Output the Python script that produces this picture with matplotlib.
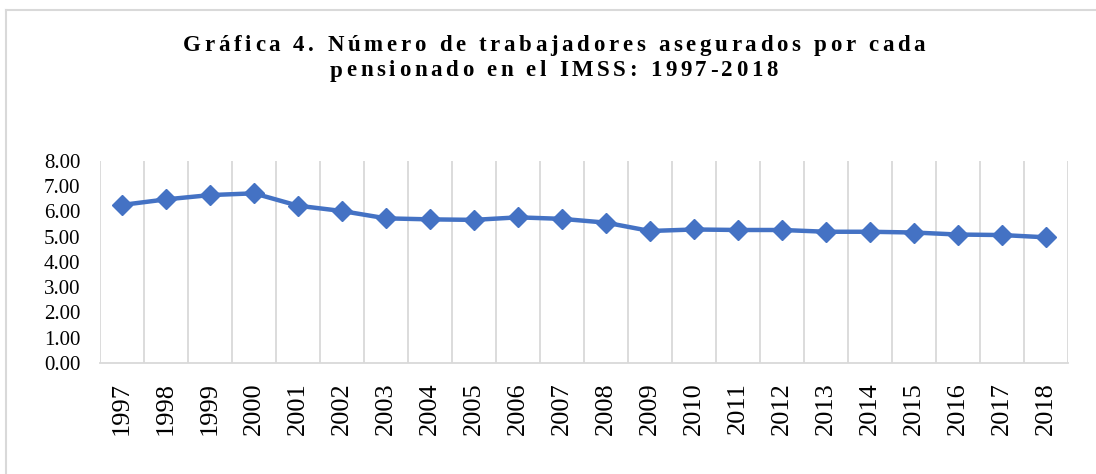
import matplotlib
matplotlib.use("Agg")
import matplotlib.pyplot as plt
from matplotlib.ticker import FixedLocator, FormatStrFormatter
from matplotlib.lines import Line2D
from matplotlib.textpath import TextPath
from matplotlib.font_manager import FontProperties

# Datos: trabajadores asegurados por cada pensionado (IMSS)
years = [str(y) for y in range(1997, 2019)]
ratio = [6.25, 6.47, 6.64, 6.71, 6.22, 6.01, 5.72, 5.68, 5.66, 5.76, 5.70,
         5.55, 5.22, 5.28, 5.26, 5.26, 5.19, 5.19, 5.16, 5.08, 5.06, 4.97]
title_lines = ["Gráfica 4. Número de trabajadores asegurados por cada",
               "pensionado en el IMSS: 1997-2018"]

plt.rcParams['font.family'] = ['Liberation Serif', 'DejaVu Serif']

W, H = 1096, 474
fig = plt.figure(figsize=(W / 100, H / 100), dpi=100)

# plot area (pixel coords from the reference)
left, right, top, bottom = 100, 1068, 160.7, 363
ax = fig.add_axes([left / W, 1 - bottom / H, (right - left) / W, (bottom - top) / H])

x = list(range(len(years)))
ax.plot(x, ratio, color='#4472C4', linewidth=3.2, marker='D', markersize=10,
        markeredgecolor='#4472C4', markerfacecolor='#4472C4', zorder=3)

ax.set_xlim(-0.5, len(years) - 0.5)
ax.set_ylim(0, 8)
ax.set_yticks(range(0, 9))
ax.yaxis.set_major_formatter(FormatStrFormatter('%.2f'))
ax.set_xticks(x)
ax.set_xticklabels(years, rotation=90)

# vertical gridlines at category boundaries
ax.xaxis.set_minor_locator(FixedLocator([i - 0.5 for i in range(len(years) + 1)]))
ax.grid(True, which='minor', axis='x', color='#d9d9d9', linewidth=1.3)
ax.tick_params(which='both', length=0)
ax.tick_params(axis='y', labelsize=15, pad=14)
ax.tick_params(axis='x', labelsize=19, pad=14)

for s in ['top', 'right', 'left']:
    ax.spines[s].set_visible(False)
ax.spines['bottom'].set_color('#d9d9d9')
ax.spines['bottom'].set_linewidth(1.3)


def spaced_title(text, x0, x1, y, size):
    # draw characters one by one so the line fills [x0, x1] pixels
    fp = FontProperties(family='Liberation Serif', weight='bold', size=size)
    widths = [TextPath((0, 0), c, prop=fp).get_extents().width if c != ' ' else 0
              for c in text]
    # advance widths: use full string measure per char
    adv = []
    for c in text:
        w = TextPath((0, 0), c + '|', prop=fp).vertices[:, 0].max() - \
            TextPath((0, 0), '|', prop=fp).vertices[:, 0].max()
        adv.append(w * 100 / 72)
    gap = ((x1 - x0) - sum(adv)) / (len(text) - 1)
    pos = x0
    for c, a in zip(text, adv):
        fig.text(pos / W, 1 - y / H, c, ha='left', va='center',
                 fontproperties=fp)
        pos += a + gap


spaced_title(title_lines[0], 183, 925, 45, 16.5)
spaced_title(title_lines[1], 330, 778, 71, 16.5)

# chart area border (top and left visible)
fig.add_artist(Line2D([6 / W, 1.0], [1 - 10 / H, 1 - 10 / H], color='#d9d9d9',
                      linewidth=1.5, transform=fig.transFigure))
fig.add_artist(Line2D([6 / W, 6 / W], [0, 1 - 10 / H], color='#d9d9d9',
                      linewidth=1.5, transform=fig.transFigure))

fig.savefig('out.png', dpi=100)
